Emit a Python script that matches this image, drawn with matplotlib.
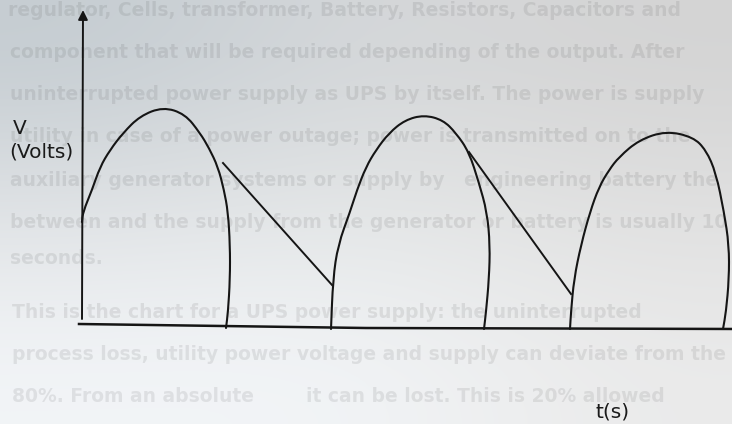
import numpy as np
import matplotlib
matplotlib.use("Agg")
from matplotlib import pyplot as plt
from matplotlib.path import Path
from matplotlib.patches import PathPatch

# traced supply waveform: t (time units) and V (volts)
hump1_t = [0.0, 0.1, 1.0, 1.8, 2.8, 4.1, 5.8, 8.1, 10.3, 11.8, 12.7, 13.6, 14.2, 14.6, 14.8, 14.8, 14.6, 14.4]
hump1_v = [10.4, 11.4, 13.6, 15.9, 17.6, 19.3, 21.0, 21.9, 21.2, 19.3, 17.8, 15.9, 13.6, 11.4, 8.1, 4.7, 1.4, -0.2]

hump2_t = [24.9, 25.1, 25.6, 26.8, 27.5, 28.4, 29.4, 30.7, 32.3, 34.2, 36.1, 37.4, 38.7, 39.7, 40.5, 40.8, 40.7, 40.4, 40.2]
hump2_v = [-0.3, 4.7, 8.1, 11.4, 13.6, 15.9, 17.6, 19.3, 20.6, 21.1, 20.6, 19.3, 17.4, 14.3, 11.4, 8.1, 4.7, 1.4, -0.3]

hump3_t = [48.8, 48.9, 49.2, 49.9, 50.8, 51.7, 52.7, 53.7, 55.7, 58.4, 61.1, 62.4, 63.4, 64.2, 64.7, 64.7, 64.4, 64.1]
hump3_v = [-0.3, 1.4, 4.7, 8.1, 11.4, 13.9, 15.6, 16.9, 18.6, 19.5, 18.9, 17.6, 15.3, 11.4, 8.1, 4.7, 1.4, -0.3]

# battery discharge segments between the humps
discharge1_t = [14.1, 25.0]
discharge1_v = [16.3, 4.1]
discharge2_t = [38.7, 48.9]
discharge2_v = [17.4, 3.2]

# hand drawn axes
xaxis_t = [-0.3, 28.4, 66.0]
xaxis_v = [0.2, -0.2, -0.3]
yaxis_t = [0.0, 0.1]
yaxis_v = [0.7, 31.6]

page_lines = [
    "regulator, Cells, transformer, Battery, Resistors, Capacitors and",
    "component that will be required depending of the output. After",
    "uninterrupted power supply as UPS by itself. The power is supply",
    "utility in case of a power outage; power is transmitted on to the",
    "auxiliary generator systems or supply by   engineering battery the",
    "between and the supply from the generator or battery is usually 10",
    "seconds.",
    "This is the chart for a UPS power supply: the uninterrupted",
    "process loss, utility power voltage and supply can deviate from the",
    "80%. From an absolute        it can be lost. This is 20% allowed",
]
page_line_y = [10, 52, 94, 137, 180, 222, 258, 313, 355, 397]
page_line_x = [8, 10, 10, 10, 10, 10, 10, 12, 12, 12]


def smooth_path(ts, vs):
    # quadratic curve through midpoints of the traced points
    pts = np.column_stack([ts, vs])
    verts = [pts[0], (pts[0] + pts[1]) / 2]
    codes = [Path.MOVETO, Path.LINETO]
    for i in range(1, len(pts) - 1):
        verts += [pts[i], (pts[i] + pts[i + 1]) / 2]
        codes += [Path.CURVE3, Path.CURVE3]
    verts.append(pts[-1])
    codes.append(Path.LINETO)
    return Path(verts, codes)


fig = plt.figure(figsize=(7.32, 4.24), dpi=100)

# paper background, greyer towards the top left
bg = fig.add_axes([0, 0, 1, 1])
bg.axis("off")
paper = np.array([
    [[0.77, 0.80, 0.82], [0.84, 0.85, 0.86], [0.83, 0.83, 0.83]],
    [[0.88, 0.89, 0.90], [0.90, 0.91, 0.91], [0.88, 0.88, 0.88]],
    [[0.95, 0.96, 0.97], [0.95, 0.96, 0.97], [0.92, 0.92, 0.92]],
])
bg.imshow(paper, extent=(0, 1, 0, 1), aspect="auto", interpolation="bicubic")
bg.set_xlim(0, 1)
bg.set_ylim(0, 1)

# faint text showing through from the page
for txt, x, y in zip(page_lines, page_line_x, page_line_y):
    bg.text(x / 732, 1 - y / 424, txt, fontsize=13.5, family="DejaVu Sans",
            weight="bold", color="0.2", alpha=0.1, ha="left", va="center",
            clip_on=True)

ax = fig.add_axes([0, 0, 1, 1])
ax.set_facecolor("none")
ax.axis("off")
ax.set_xlim(-8.2, 65.0)
ax.set_ylim(-9.8, 32.6)

for ts, vs in [(hump1_t, hump1_v), (hump2_t, hump2_v), (hump3_t, hump3_v)]:
    ax.add_patch(PathPatch(smooth_path(ts, vs), fill=False, lw=1.5, ec="#151515",
                           capstyle="round", joinstyle="round"))

ax.plot(discharge1_t, discharge1_v, color="#151515", lw=1.4)
ax.plot(discharge2_t, discharge2_v, color="#151515", lw=1.4)

ax.plot(xaxis_t, xaxis_v, color="#151515", lw=1.8)
ax.annotate("", xy=(yaxis_t[1], yaxis_v[1]), xytext=(yaxis_t[0], yaxis_v[0]),
            arrowprops=dict(arrowstyle="-|>", color="#151515", lw=1.4,
                            mutation_scale=14, shrinkA=0, shrinkB=0))

ax.text(-6.9, 19.7, "V", fontsize=14.5, color="#1a1a1a", ha="left", va="center")
ax.text(-7.3, 17.4, "(Volts)", fontsize=14.5, color="#1a1a1a", ha="left", va="center")
ax.text(51.4, -8.6, "t(s)", fontsize=14.5, color="#1a1a1a", ha="left", va="center")

fig.savefig("out.png", dpi=100)
